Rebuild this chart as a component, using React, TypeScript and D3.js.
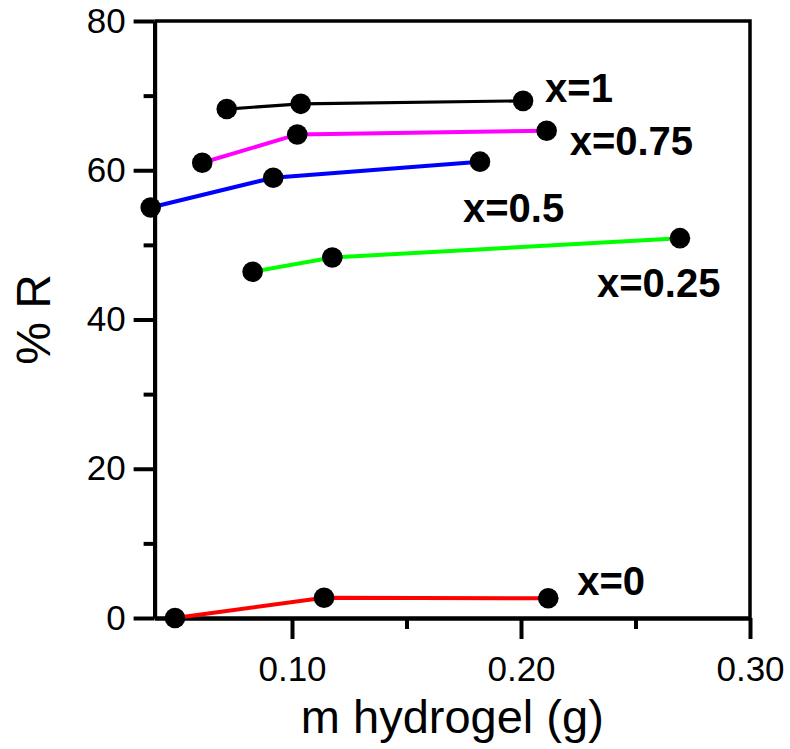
import React, { useRef, useEffect } from "react";
import * as d3 from "d3";

// m hydrogel (g) vs %R for each composition x
const seriesNames = ["x=1", "x=0.75", "x=0.5", "x=0.25", "x=0"];
const seriesColors = ["#000000", "#ff00ff", "#0000ff", "#00ff00", "#ff0000"];
const massX = [
  [0.0715, 0.1038, 0.2009],
  [0.0608, 0.1023, 0.2112],
  [0.0383, 0.0918, 0.1821],
  [0.0828, 0.1176, 0.2694],
  [0.0489, 0.114, 0.2119],
];
const percentR = [
  [68.2, 68.9, 69.3],
  [61.0, 64.8, 65.3],
  [55.0, 59.0, 61.15],
  [46.4, 48.3, 50.9],
  [0, 2.72, 2.64],
];

const xMajor = [0.1, 0.2, 0.3];
const xMinor = [0.15, 0.25];
const yMajor = [0, 20, 40, 60, 80];
const yMinor = [10, 30, 50, 70];

export default function App() {
  const ref = useRef<SVGSVGElement | null>(null);

  useEffect(() => {
    const svg = d3.select(ref.current);
    svg.selectAll("*").remove();

    const margin = { left: 154.6, right: 750, top: 21, bottom: 618 };
    const font = "'Liberation Sans', Arial, Helvetica, sans-serif";

    const x = d3.scaleLinear().domain([0.04, 0.3]).range([margin.left, margin.right]);
    const y = d3.scaleLinear().domain([0, 80]).range([margin.bottom, margin.top]);

    // frame top / right
    svg.append("path")
      .attr("d", `M${margin.left},${margin.top}H${margin.right}V${margin.bottom}`)
      .attr("fill", "none")
      .attr("stroke", "#000")
      .attr("stroke-width", 3.5);

    const styleAxis = (g: any) => {
      g.selectAll("path").attr("stroke-width", 4);
      g.selectAll("line").attr("stroke-width", 4);
      g.selectAll("text")
        .style("font-family", font)
        .style("font-size", "35px")
        .attr("fill", "#000");
    };

    // x axis
    svg.append("g")
      .attr("transform", `translate(0,${margin.bottom})`)
      .call(d3.axisBottom(x).tickValues(xMinor).tickSize(11).tickSizeOuter(0).tickFormat(() => ""))
      .call(styleAxis);
    svg.append("g")
      .attr("transform", `translate(0,${margin.bottom})`)
      .call(d3.axisBottom(x).tickValues(xMajor).tickSize(21).tickSizeOuter(0).tickPadding(17).tickFormat(d3.format(".2f")))
      .call(styleAxis);

    // y axis
    svg.append("g")
      .attr("transform", `translate(${margin.left},0)`)
      .call(d3.axisLeft(y).tickValues(yMinor).tickSize(11).tickSizeOuter(0).tickFormat(() => ""))
      .call(styleAxis);
    svg.append("g")
      .attr("transform", `translate(${margin.left},0)`)
      .call(d3.axisLeft(y).tickValues(yMajor).tickSize(21).tickSizeOuter(0).tickPadding(8))
      .call(styleAxis);

    // axis titles
    svg.append("text")
      .attr("x", (margin.left + margin.right) / 2)
      .attr("y", 733)
      .attr("text-anchor", "middle")
      .style("font-family", font)
      .style("font-size", "47px")
      .text("m hydrogel (g)");

    svg.append("text")
      .attr("transform", `translate(50,${(margin.top + margin.bottom) / 2}) rotate(-90)`)
      .attr("text-anchor", "middle")
      .style("font-family", font)
      .style("font-size", "48px")
      .text("% R");

    // lines first, markers on top
    seriesNames.forEach((name, s) => {
      const pts: [number, number][] = massX[s].map((m, i) => [x(m), y(percentR[s][i])]);
      svg.append("path")
        .attr("d", d3.line()(pts))
        .attr("fill", "none")
        .attr("stroke", seriesColors[s])
        .attr("stroke-width", s === 0 ? 3.2 : 4);
    });

    seriesNames.forEach((name, s) => {
      svg.append("g")
        .selectAll("circle")
        .data(massX[s])
        .enter()
        .append("circle")
        .attr("cx", (d) => x(d))
        .attr("cy", (d, i) => y(percentR[s][i]))
        .attr("r", 10.3)
        .attr("fill", "#000");
    });

    // series labels, placed relative to each series' last point
    const offsets = [
      [22, 1],
      [23, 24],
      [-17, 60],
      [-83, 59],
      [29, -3],
    ];
    seriesNames.forEach((name, s) => {
      const last = massX[s].length - 1;
      svg.append("text")
        .attr("x", x(massX[s][last]) + offsets[s][0])
        .attr("y", y(percentR[s][last]) + offsets[s][1])
        .style("font-family", font)
        .style("font-size", "40px")
        .style("font-weight", "bold")
        .text(name);
    });
  }, []);

  return (
    <svg
      ref={ref}
      width={790}
      height={749}
      style={{ position: "absolute", left: 0, top: 0, background: "#fff" }}
    />
  );
}
